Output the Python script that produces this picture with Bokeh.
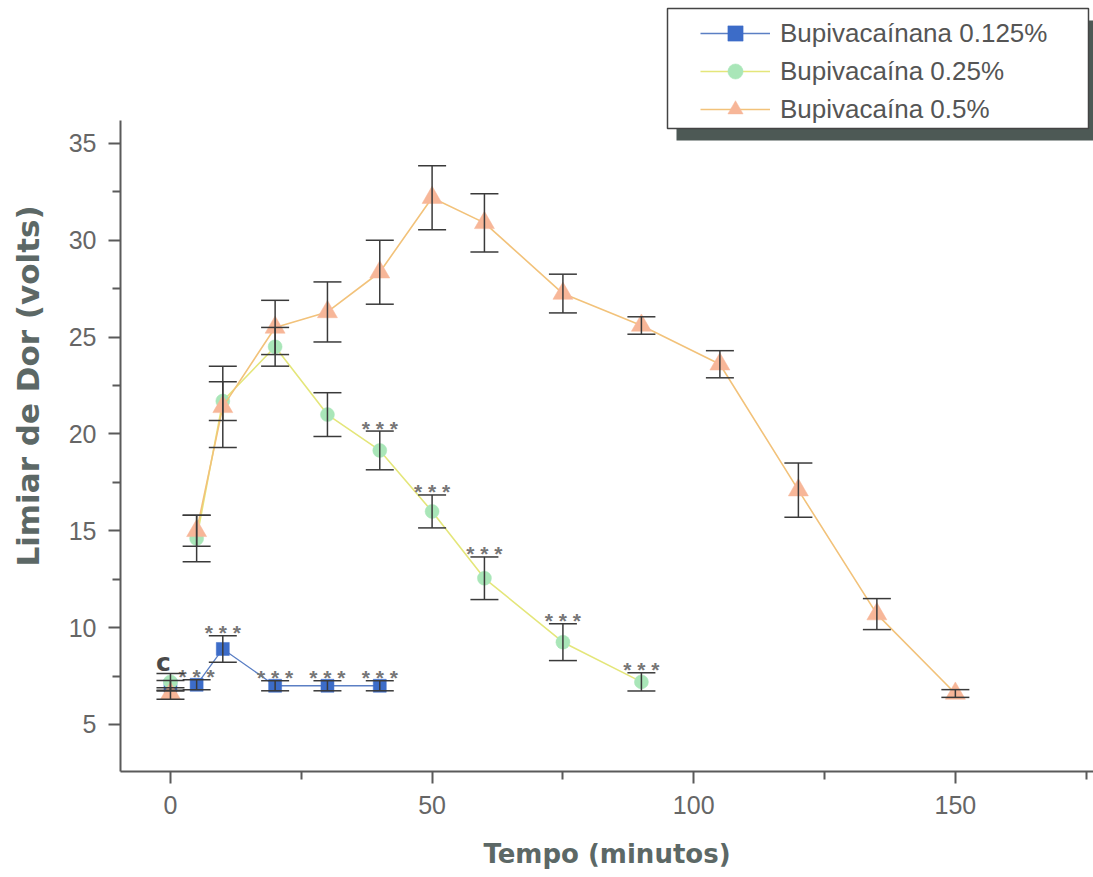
from bokeh.plotting import figure
from bokeh.models import (ColumnDataSource, Whisker, TeeHead, FixedTicker, Legend,
                          LegendItem, BoxAnnotation, Range1d)
from bokeh.core.properties import value
from bokeh.embed import file_html
from bokeh.resources import INLINE

# Pain threshold (volts) over time (minutes) for three bupivacaine doses.
# Time 0 is the control reading ("c"); it is not joined to the curves.
time_0125 = [0, 5, 10, 20, 30, 40]
mean_0125 = [7.0, 7.05, 8.9, 7.0, 7.0, 7.0]
sem_0125 = [0.27, 0.26, 0.68, 0.26, 0.26, 0.26]
sig_0125 = [False, True, True, True, True, True]

time_025 = [0, 5, 10, 20, 30, 40, 50, 60, 75, 90]
mean_025 = [7.2, 14.6, 21.7, 24.5, 21.0, 19.15, 16.0, 12.55, 9.25, 7.2]
sem_025 = [0.43, 1.2, 1.0, 1.0, 1.13, 1.0, 0.85, 1.1, 0.95, 0.47]
sig_025 = [False, False, False, False, False, True, True, True, True, True]

time_05 = [0, 5, 10, 20, 30, 40, 50, 60, 75, 90, 105, 120, 135, 150]
mean_05 = [6.6, 15.0, 21.4, 25.5, 26.3, 28.35, 32.2, 30.9, 27.25, 25.6, 23.6, 17.1, 10.7, 6.6]
sem_05 = [0.3, 0.8, 2.1, 1.4, 1.55, 1.65, 1.65, 1.5, 1.0, 0.45, 0.7, 1.4, 0.8, 0.2]
sig_05 = [False] * len(time_05)

series_labels = ["Bupivacaínana 0.125%", "Bupivacaína 0.25%", "Bupivacaína 0.5%"]
control_label = "c"
sig_label = "* * *"
x_ticks = [0, 50, 100, 150]
y_ticks = [5, 10, 15, 20, 25, 30, 35]
x_title = "Tempo (minutos)"
y_title = "Limiar de Dor (volts)"

AXIS_GREY = "#5a5a5a"
TITLE_GREY = "#5c6866"
BAR_GREY = "#3a3a3a"

p = figure(frame_width=973, frame_height=771,
           x_range=Range1d(-9.55, 176.4), y_range=Range1d(2.573, 42.38),
           output_backend="svg", toolbar_location=None,
           min_border_left=120, min_border_right=0, min_border_top=0,
           min_border_bottom=106, background_fill_color="white",
           border_fill_color="white")
p.outline_line_color = None
p.grid.visible = False

# axes
p.xaxis.ticker = FixedTicker(ticks=x_ticks, minor_ticks=[t + 25 for t in x_ticks])
p.yaxis.ticker = FixedTicker(ticks=y_ticks, minor_ticks=[t + 2.5 for t in y_ticks[:-1]])
p.yaxis.bounds = (2.573, 36.19)
for ax in (p.xaxis[0], p.yaxis[0]):
    ax.axis_line_color = AXIS_GREY
    ax.axis_line_width = 2
    ax.major_tick_line_color = AXIS_GREY
    ax.major_tick_line_width = 2
    ax.minor_tick_line_color = AXIS_GREY
    ax.minor_tick_line_width = 2
    ax.major_tick_in = 0
    ax.minor_tick_in = 0
    ax.major_tick_out = 12
    ax.minor_tick_out = 8
    ax.major_label_text_font = "Liberation Sans"
    ax.major_label_text_font_size = "25px"
    ax.major_label_text_color = "#666666"
    ax.axis_label_text_font = "DejaVu Sans"
    ax.axis_label_text_font_style = "bold"
    ax.axis_label_text_color = TITLE_GREY
p.xaxis.axis_label = x_title
p.yaxis.axis_label = y_title
p.xaxis.axis_label_text_font_size = "26px"
p.yaxis.axis_label_text_font_size = "31px"
p.xaxis.major_label_standoff = 12
p.xaxis.axis_label_standoff = 22
p.yaxis.major_label_standoff = 12
p.yaxis.axis_label_standoff = 20

series = [
    (time_0125, mean_0125, sem_0125, sig_0125, "#5b7fc4", 1.3, "square", 13, "#3c6cc8"),
    (time_025, mean_025, sem_025, sig_025, "#e4e67a", 1.6, "circle", 14, "#a9e6b8"),
    (time_05, mean_05, sem_05, sig_05, "#f2c27a", 1.6, "triangle", 20, "#f7b698"),
]

legend_items = []
for (t, m, s, sig, lcol, lw, marker, msize, mcol), label in zip(series, series_labels):
    data = dict(x=t, y=m, upper=[a + b for a, b in zip(m, s)],
                lower=[a - b for a, b in zip(m, s)])
    src = ColumnDataSource(data)
    curve = ColumnDataSource({k: v[1:] for k, v in data.items()})
    ln = p.line("x", "y", source=curve, line_color=lcol, line_width=lw)
    sc = p.scatter("x", "y", source=src, marker=marker, size=msize,
                   fill_color=mcol, line_color=mcol, line_width=0.5)
    legend_items.append(LegendItem(label=label, renderers=[ln, sc]))

    p.add_layout(Whisker(source=src, base="x", upper="upper", lower="lower",
                         line_color=BAR_GREY, line_width=1.5, level="annotation",
                         upper_head=TeeHead(size=28, line_color=BAR_GREY, line_width=1.5),
                         lower_head=TeeHead(size=28, line_color=BAR_GREY, line_width=1.5)))

    flagged = [i for i, f in enumerate(sig) if f]
    if flagged:
        star_src = ColumnDataSource(dict(x=[t[i] for i in flagged],
                                         y=[m[i] + s[i] for i in flagged]))
        p.text("x", "y", source=star_src, text=value(sig_label),
               text_font=value("Liberation Sans"), text_font_style="bold",
               text_font_size="21px", text_color="#767676",
               text_align="center", text_baseline="alphabetic", y_offset=-3)

# control marker label above the time-0 readings
top0 = max(m[0] + s[0] for (_, m, s, *_rest) in series)
p.text(x=[0], y=[top0], text=[control_label], text_font=value("DejaVu Sans"),
       text_font_style="bold", text_font_size="25px", text_color="#4a4a4a",
       text_align="center", text_baseline="alphabetic", x_offset=-7, y_offset=-11)

# legend box with drop shadow
p.add_layout(BoxAnnotation(left=556, right=973, top=751, bottom=631,
                           left_units="screen", right_units="screen",
                           top_units="screen", bottom_units="screen",
                           fill_color="#4d5955", fill_alpha=1, line_color=None))
p.add_layout(BoxAnnotation(left=547, right=968, top=763, bottom=643,
                           left_units="screen", right_units="screen",
                           top_units="screen", bottom_units="screen",
                           fill_color="white", fill_alpha=1,
                           line_color="#444444", line_width=1.5, line_alpha=1))
legend = Legend(items=legend_items, location=(580, 643), glyph_width=70,
                glyph_height=38, label_height=38, spacing=0, padding=0,
                label_standoff=10, label_text_font="Liberation Sans",
                label_text_font_size="26px", label_text_color="#555555",
                background_fill_alpha=0, border_line_alpha=0, margin=0)
p.add_layout(legend)

open("out.html", "w").write(file_html(p, INLINE))
